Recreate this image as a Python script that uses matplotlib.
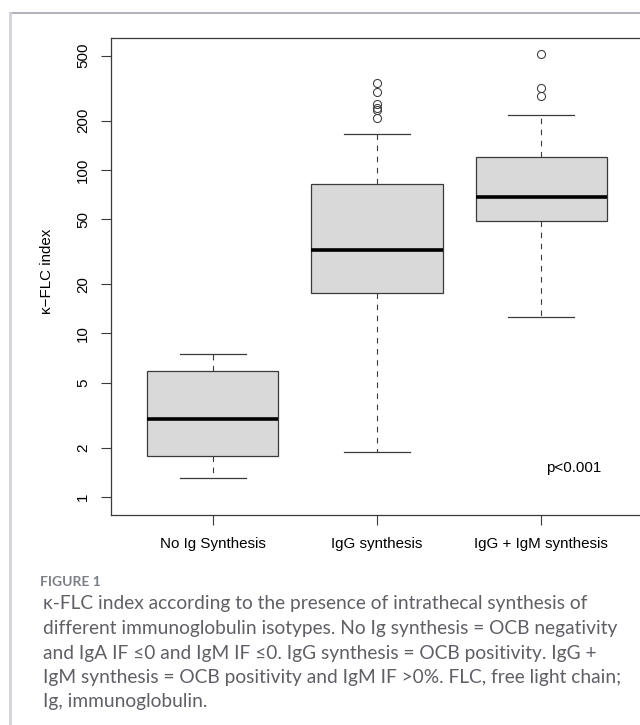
import matplotlib
matplotlib.use("Agg")
import matplotlib.pyplot as plt
from matplotlib.lines import Line2D

# box summary values (log scale)
groups = ["No Ig Synthesis", "IgG synthesis", "IgG + IgM synthesis"]
medians = [3.0, 32.4, 68.4]
q1_vals = [1.78, 17.7, 48.8]
q3_vals = [5.9, 82.0, 120.0]
whisk_lo = [1.31, 1.88, 12.6]
whisk_hi = [7.5, 166.0, 217.0]
outliers = [[], [340, 300, 252, 240, 233, 208], [512, 318, 284]]
yticks = [1, 2, 5, 10, 20, 50, 100, 200, 500]

caption_lines = [
    "\u03ba-FLC index according to the presence of intrathecal synthesis of",
    "different immunoglobulin isotypes. No Ig synthesis = OCB negativity",
    "and IgA IF \u22640 and IgM IF \u22640. IgG synthesis = OCB positivity. IgG +",
    "IgM synthesis = OCB positivity and IgM IF >0%. FLC, free light chain;",
    "Ig, immunoglobulin.",
]

edge = "#3a3a3a"

fig = plt.figure(figsize=(6.4, 7.25), dpi=100)
ax = fig.add_axes([111 / 640, 1 - 515 / 725, 532 / 640, 477 / 725])

stats = []
for i in range(len(groups)):
    stats.append({"med": medians[i], "q1": q1_vals[i], "q3": q3_vals[i],
                  "whislo": whisk_lo[i], "whishi": whisk_hi[i],
                  "fliers": outliers[i], "label": groups[i]})

ax.bxp(stats, positions=[1, 2, 3], widths=0.8, patch_artist=True,
       boxprops=dict(facecolor="#d9d9d9", edgecolor=edge, linewidth=0.9),
       medianprops=dict(color="black", linewidth=2.6, solid_capstyle="butt"),
       whiskerprops=dict(color=edge, linewidth=0.8, linestyle=(0, (5, 5))),
       capprops=dict(color=edge, linewidth=0.9),
       capwidths=0.4,
       flierprops=dict(marker="o", markerfacecolor="none", markeredgecolor=edge,
                       markersize=5.8, markeredgewidth=0.75, linestyle="none"))

ax.set_yscale("log")
ax.set_ylim(0.776, 641)
ax.set_xlim(0.38, 3.62)
ax.set_yticks(yticks)
ax.set_yticklabels([str(t) for t in yticks], rotation=90, va="center",
                   family="Liberation Sans", fontsize=10.9)
ax.yaxis.set_minor_locator(matplotlib.ticker.NullLocator())
ax.set_xticks([1, 2, 3])
ax.set_xticklabels(groups, family="Liberation Sans", fontsize=10.9)
ax.tick_params(axis="y", length=7, width=0.8, color=edge, pad=8)
ax.tick_params(axis="x", length=7, width=0.8, color=edge, pad=9)
for s in ax.spines.values():
    s.set_color(edge)
    s.set_linewidth(0.9)

ax.set_ylabel("\u03ba\u2212FLC index", family="Liberation Sans", fontsize=10.9)
ax.yaxis.set_label_coords(-0.108, 0.51)

ax.text(3.195, 1.5, "p<0.001", family="Liberation Sans", fontsize=10.9,
        ha="center", va="center")

# page frame lines
fig.add_artist(Line2D([10 / 640, 1], [1 - 13 / 725, 1 - 13 / 725],
                      transform=fig.transFigure, color="#a4a4b0", linewidth=1.2))
fig.add_artist(Line2D([9.5 / 640, 9.5 / 640], [0, 1 - 13 / 725],
                      transform=fig.transFigure, color="#d2d2d8", linewidth=2.0))

fig.text(40 / 640, 1 - 582 / 725, "FIGURE 1", family=["Lato", "DejaVu Sans"],
         fontweight="bold", fontsize=10, color="#7a7f88", va="center")
for k, line in enumerate(caption_lines):
    y = 604 + k * 24.5
    fig.text(43 / 640, 1 - y / 725, line, family=["Lato", "DejaVu Sans"],
             fontsize=13.8, color="#5f5f66", va="center")

fig.savefig("out.png", dpi=100)
